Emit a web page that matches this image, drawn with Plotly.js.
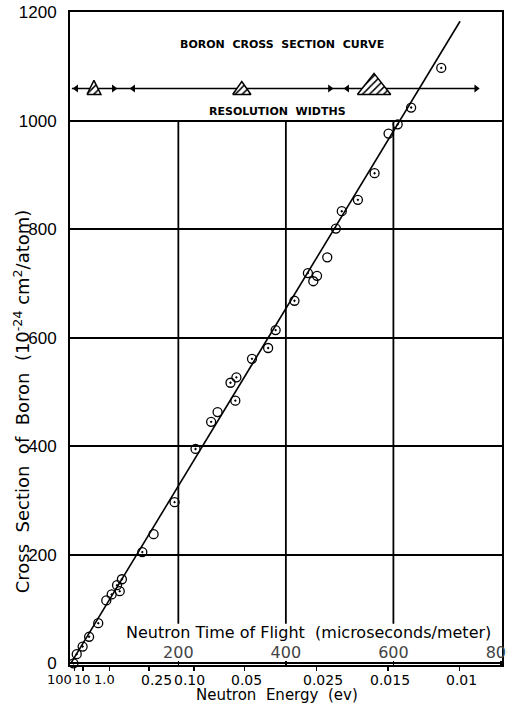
<!DOCTYPE html>
<html>
<head>
<meta charset="utf-8">
<script src="https://cdn.plot.ly/plotly-3.0.1.min.js"></script>
<style>html,body{margin:0;padding:0;background:#fff;}#chart{width:507px;height:706px;}</style>
</head>
<body>
<div id="chart"></div>
<script>
// Neutron time of flight (microseconds/meter) and boron cross section (1e-24 cm^2/atom)
const tofDot   = [5, 11, 22, 34, 51, 76, 91, 86, 95, 133, 193, 232, 261, 297, 308, 306, 337, 367, 381, 416, 441, 493, 504, 534, 565, 608, 633, 689];
const sigmaDot = [0, 17, 31, 49, 74, 127, 133, 144, 155, 205, 297, 395, 445, 517, 527, 484, 561, 581, 614, 668, 719, 801, 833, 854, 903, 993, 1024, 1097];
const tofOpen   = [66, 154, 273, 451, 458, 477, 591];
const sigmaOpen = [116, 238, 463, 704, 714, 748, 976];
// fitted straight line
const fitTof   = [0, 724];
const fitSigma = [0, 1183];
// energy scale (ev) on the bottom axis, placed at its time of flight
const energyLabels = ['100', '10', '1.0', '0.25', '0.10', '0.05', '0.025', '0.015', '0.01'];
const energyTof    = [7, 23, 72, 145, 229, 323, 457, 590, 723];
const tofTicks = [200, 400, 600, 800];
const sigmaTicks = [0, 200, 400, 600, 800, 1000, 1200];
// resolution widths banner
const resLevel = 1059;
const resLineTof = [2, 754];
const arrowTof = [10, 80, 116, 482, 514, 754];
const arrowSym = ['triangle-left', 'triangle-right', 'triangle-left', 'triangle-right', 'triangle-left', 'triangle-right'];
const triCenter = [43, 318, 564];
const triHalf = [13, 17, 31];
const triTop = [1074, 1072, 1087];
const triBase = 1048;
const gridTof = [200, 400, 600];
// label nudges (pixels) and sizes for the crowded energy labels
const energyShift = [-15, -1, -5, 8, -4, 2, 6, 2, 2];
const energySize = [13, 13, 13, 14, 14, 14, 14, 14, 14];

const traces = [];
traces.push({x: fitTof, y: fitSigma, mode: 'lines', line: {color: '#000', width: 1.6}, hoverinfo: 'skip', showlegend: false});
traces.push({x: tofDot, y: sigmaDot, mode: 'markers', marker: {symbol: 'circle-open-dot', size: 9, color: '#000', line: {width: 1.3, color: '#000'}}, showlegend: false, cliponaxis: false});
traces.push({x: tofOpen, y: sigmaOpen, mode: 'markers', marker: {symbol: 'circle-open', size: 9, color: '#000', line: {width: 1.3, color: '#000'}}, showlegend: false});
traces.push({x: resLineTof, y: [resLevel, resLevel], mode: 'lines', line: {color: '#000', width: 1.6}, showlegend: false});
traces.push({x: arrowTof, y: arrowTof.map(() => resLevel), mode: 'markers', marker: {symbol: arrowSym, size: 7, color: '#000'}, showlegend: false});
triCenter.forEach((c, i) => {
  traces.push({
    x: [c - triHalf[i], c, c + triHalf[i], c - triHalf[i]],
    y: [triBase, triTop[i], triBase, triBase],
    mode: 'lines', fill: 'toself', fillcolor: 'rgba(0,0,0,0)',
    fillpattern: {shape: '/', fgcolor: '#000', bgcolor: '#fff', size: 5, solidity: 0.3},
    line: {color: '#000', width: 1.5}, showlegend: false
  });
});

const shapes = gridTof.map(t => ({type: 'line', xref: 'x', yref: 'y', x0: t, x1: t, y0: 73, y1: 1000, line: {color: '#000', width: 1.8}, layer: 'below'}));

const font = 'DejaVu Sans, Liberation Sans, sans-serif';
const annotations = [
  {xref: 'x', yref: 'y', x: 443, y: 56, text: 'Neutron Time of Flight  (microseconds/meter)', showarrow: false, font: {size: 16, family: font}, xanchor: 'center', yanchor: 'middle'},
  {xref: 'x', yref: 'y', x: 393, y: 1140, text: '<b>BORON  CROSS  SECTION  CURVE</b>', showarrow: false, font: {size: 11, family: font}, xanchor: 'center'},
  {xref: 'x', yref: 'y', x: 385, y: 1016, text: '<b>RESOLUTION  WIDTHS</b>', showarrow: false, font: {size: 11, family: font}, xanchor: 'center'},
  {xref: 'paper', yref: 'paper', x: 0.479, y: 0, yanchor: 'bottom', yshift: -40, borderpad: 0, text: 'Neutron  Energy  (ev)', showarrow: false, font: {size: 15, family: font}},
  {xref: 'paper', yref: 'paper', x: -0.111, y: 0.404, xanchor: 'center', yanchor: 'middle', textangle: -90, text: 'Cross  Section  of  Boron  (10<sup>-24</sup> cm<sup>2</sup>/atom)', showarrow: false, font: {size: 18, family: font}}
];
energyLabels.forEach((lab, i) => {
  annotations.push({xref: 'x', yref: 'paper', x: energyTof[i], y: 0, yanchor: 'top', yshift: -6, xshift: energyShift[i], borderpad: 0, text: lab, showarrow: false, font: {size: energySize[i], family: font}});
});

const layout = {
  width: 507, height: 706,
  margin: {l: 70, r: 5, t: 12, b: 41},
  paper_bgcolor: '#fff', plot_bgcolor: '#fff',
  font: {family: font, color: '#000'},
  showlegend: false,
  xaxis: {
    range: [-1.5, 802], showgrid: false, zeroline: false,
    showline: true, mirror: true, linecolor: '#000', linewidth: 2,
    tickmode: 'array', tickvals: energyTof, showticklabels: false,
    ticks: 'outside', ticklen: 4, tickwidth: 1.5, tickcolor: '#000'
  },
  xaxis2: {
    range: [-1.5, 802], overlaying: 'x', anchor: 'y', side: 'bottom',
    showgrid: false, zeroline: false, showline: false,
    tickmode: 'array', tickvals: tofTicks, ticks: 'inside', ticklen: 4, tickwidth: 1.5, tickcolor: '#000',
    ticklabelposition: 'inside', ticklabeloverflow: 'allow', tickangle: 0,
    tickfont: {size: 16, family: font}
  },
  yaxis: {
    range: [-3, 1200], zeroline: false,
    showline: true, mirror: true, linecolor: '#000', linewidth: 2,
    showgrid: true, gridcolor: '#000', gridwidth: 2,
    tickmode: 'array', tickvals: sigmaTicks, ticks: '', ticklabelstandoff: 8,
    tickfont: {size: 17, family: 'Liberation Sans, Arial, sans-serif'}
  },
  shapes: shapes,
  annotations: annotations
};
traces.forEach(t => { t.xaxis = 'x'; t.yaxis = 'y'; });
traces.push({x: [0], y: [0], xaxis: 'x2', yaxis: 'y', mode: 'markers', marker: {opacity: 0}, hoverinfo: 'skip', showlegend: false});
Plotly.newPlot('chart', traces, layout, {displayModeBar: false, staticPlot: true});
</script>
</body>
</html>
